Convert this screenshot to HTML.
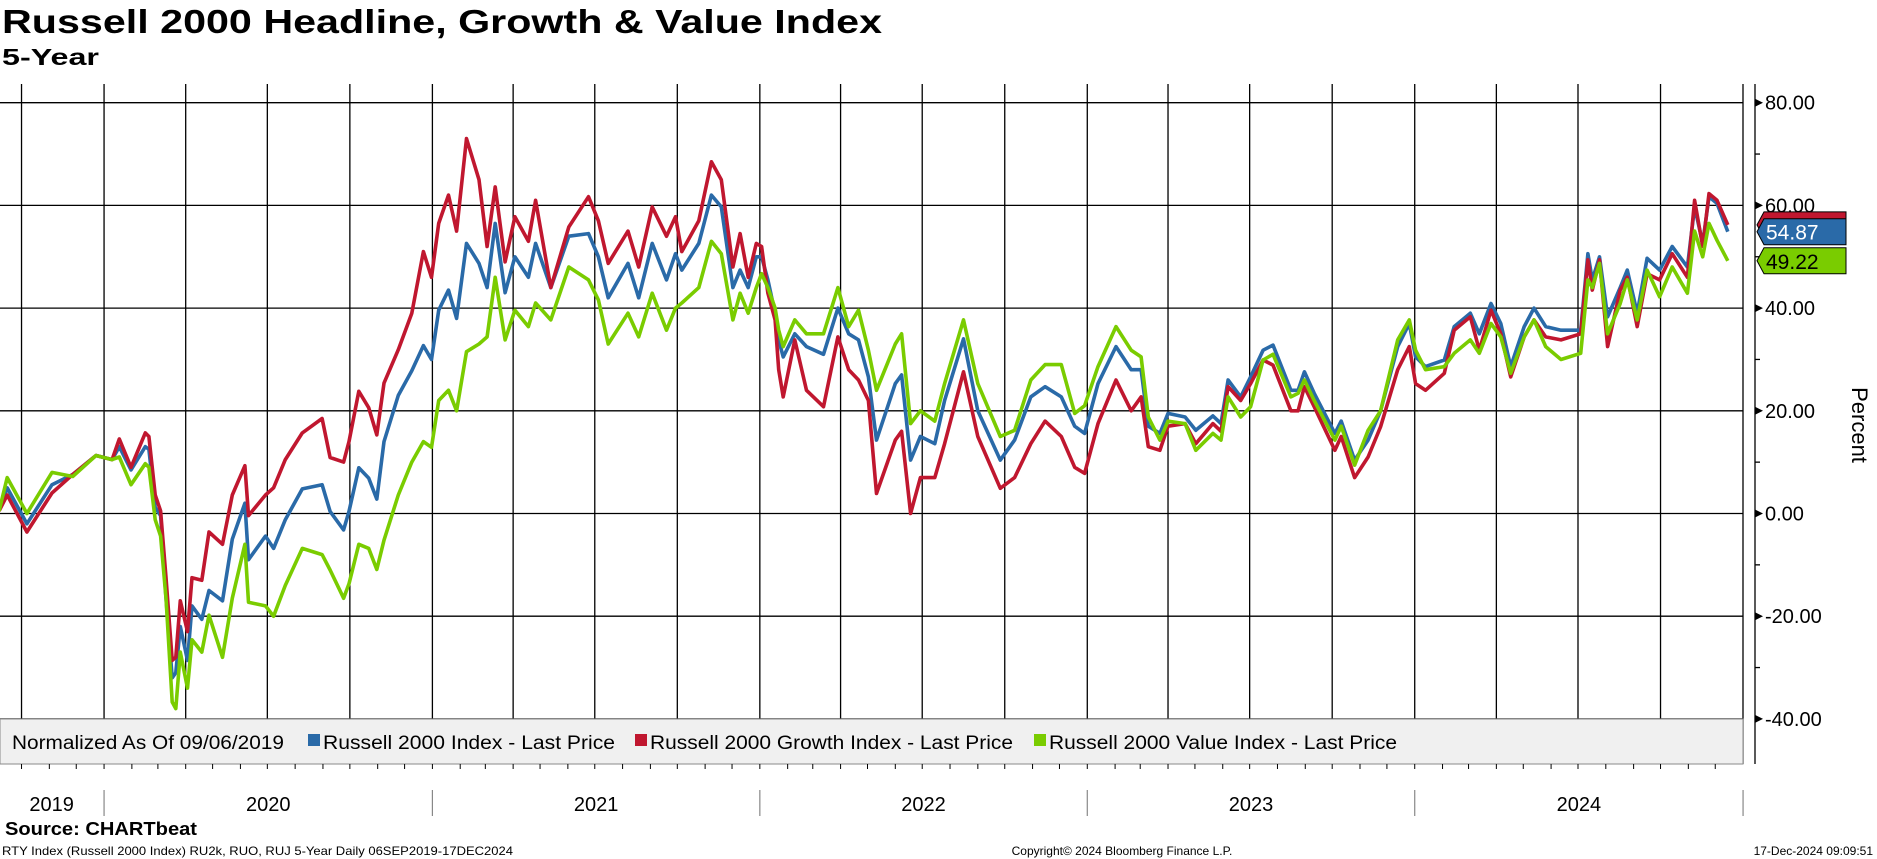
<!DOCTYPE html>
<html><head><meta charset="utf-8">
<style>
html,body{margin:0;padding:0;background:#fff;}
svg{display:block;font-family:"Liberation Sans","DejaVu Sans",sans-serif;}
</style></head>
<body>
<svg id="chart" width="1877" height="859" viewBox="0 0 1877 859" xmlns="http://www.w3.org/2000/svg">
<text x="2" y="33" font-size="33" font-weight="bold" textLength="880" lengthAdjust="spacingAndGlyphs">Russell 2000 Headline, Growth &amp; Value Index</text>
<text x="2" y="65" font-size="23" font-weight="bold" textLength="97" lengthAdjust="spacingAndGlyphs">5-Year</text>
<g id="grid"></g>
<g id="series"></g>
<g id="legend">
<rect x="0" y="719" width="1743" height="45" fill="#f0f0f0" stroke="#8a8a8a" stroke-width="1"/>
<text x="12" y="749" font-size="19" textLength="272" lengthAdjust="spacingAndGlyphs">Normalized As Of 09/06/2019</text>
<rect x="308" y="734" width="12" height="12" fill="#2a6aa8"/>
<text x="323" y="749" font-size="19" textLength="292" lengthAdjust="spacingAndGlyphs">Russell 2000 Index - Last Price</text>
<rect x="635" y="734" width="12" height="12" fill="#c0172f"/>
<text x="650" y="749" font-size="19" textLength="363" lengthAdjust="spacingAndGlyphs">Russell 2000 Growth Index - Last Price</text>
<rect x="1034" y="734" width="12" height="12" fill="#7acc00"/>
<text x="1049" y="749" font-size="19" textLength="348" lengthAdjust="spacingAndGlyphs">Russell 2000 Value Index - Last Price</text>
</g>
<g id="axis"></g>
<g id="xaxis"></g>
<text transform="translate(1852,425) rotate(90)" font-size="22" text-anchor="middle">Percent</text>
<text x="5" y="835" font-size="18" font-weight="bold" textLength="192" lengthAdjust="spacingAndGlyphs">Source: CHARTbeat</text>
<text x="2" y="855" font-size="12" textLength="511" lengthAdjust="spacingAndGlyphs">RTY Index (Russell 2000 Index) RU2k, RUO, RUJ 5-Year  Daily 06SEP2019-17DEC2024</text>
<text x="1122" y="855" font-size="12" text-anchor="middle">Copyright© 2024 Bloomberg Finance L.P.</text>
<text x="1873" y="855" font-size="12" text-anchor="end">17-Dec-2024 09:09:51</text>
</svg>
<script>
// days since 06 Sep 2019
const days = [0,9,31,59,82,108,126,134,147,163,167,174,180,186,193,197,202,210,215,226,234,249,260,274,278,297,306,319,338,360,369,384,390,401,412,421,429,445,460,473,482,490,501,510,521,535,544,553,564,575,590,598,615,635,657,668,679,701,713,728,744,754,761,780,794,805,818,826,835,844,850,857,865,869,874,887,900,919,935,947,958,969,978,999,1006,1016,1027,1043,1054,1075,1091,1116,1132,1150,1166,1184,1199,1210,1225,1245,1262,1273,1281,1294,1303,1322,1334,1353,1362,1370,1384,1395,1409,1420,1440,1448,1455,1466,1489,1496,1511,1526,1540,1559,1572,1579,1590,1611,1622,1640,1650,1663,1674,1685,1700,1711,1724,1741,1763,1771,1776,1784,1793,1807,1815,1826,1837,1851,1865,1882,1890,1899,1906,1915,1927];
const r2000 = [0.5,5,-2,5.6,7.6,11.3,10.5,13,8.5,13,12.5,1.2,-0.4,-16.5,-32,-31,-22,-28.6,-18,-20.6,-15,-17,-5,2,-9,-4.4,-6.8,-1.2,4.8,5.6,0.4,-3.2,0.4,8.9,6.9,2.8,14,23,27.8,32.7,30,39.6,43.5,38,52.6,48.7,44,56.5,43,50,46,52.6,44,54,54.5,50,42,48.7,42,52.6,45.5,50.6,47.4,52.6,62,59.7,44,47.4,44,50,50,45.5,39,33.8,30.5,35,32.5,31,40,35,33.8,26.6,14.3,25.3,27,10.4,15,13.6,22,34,20,10.4,14.3,22.7,24.7,22.7,17,15.6,25.3,32.5,28,28,17,15.6,19.5,18.8,16.2,19,17.5,26,22.7,26.6,31.8,32.8,24,24,27.6,23.4,15.6,18,10.4,14.3,20,32.5,37,30.5,28.6,29.9,36.4,39,35,40.9,37,28.6,36.4,40,36.4,35.7,35.7,50.6,45.5,50,38.3,44,47.4,39,49.7,47.4,52,48,59.7,52.6,61.7,60.4,54.87];
const growth = [0.5,3.6,-3.6,4,7.6,11.3,10.5,14.5,9,15.7,15,3.6,0.5,-12.5,-28.6,-28,-17,-23,-12.5,-13,-3.6,-6,3.6,9.3,-0.4,3.6,5,10.5,15.7,18.5,10.9,10,14,23.8,20.6,15.3,25.4,31.9,39,51,46,56.5,62,55,73,65,52,63.6,49,57.8,53,61,44,55.8,61.7,57,48.7,55,48,59.7,54,57.8,51,57,68.5,65,48,54.5,46,52.6,52,42.9,37.7,28,22.7,33.8,24,20.8,34.4,28,26,22,3.9,14.3,16,0,7,7,13.6,27.6,15,4.9,7,13.6,18,15,9,7.8,17.5,26,20,22.7,13,12.3,17,17.5,13.6,17.5,16,24.7,22,25.3,29.9,28.9,20,20,24.7,20.8,12.3,15,7,11,16.9,28,32.5,25.3,24,27.3,35.7,38.3,31.8,39.6,35,26.6,34.4,37.7,34.4,33.8,35,49.4,43.5,49.4,32.5,43.5,46,36.4,46.7,45.5,50.6,46,61,52,62.3,61,56.2];
const value = [0.5,7,0,8,7.2,11.3,10.5,11,5.6,9.7,9,-1.2,-4.4,-16.5,-36.7,-38,-27,-34,-24.6,-27,-19.8,-28,-16.5,-6,-17.3,-18,-20,-14,-6.8,-8,-11,-16.5,-13.7,-6,-6.8,-10.9,-5.2,3.6,10,14,12.9,22,24,20,31.5,33,34.4,46,33.8,39.6,36.4,41,37.7,48,45.5,41.6,33,39,34.4,42.9,35.7,40,41,44,53,50.6,37.7,42.9,39,44,46.7,44,40,35.7,32.5,37.7,35,35,44,36.4,39.6,31.8,24,33,35,17.5,20,18,25.3,37.7,25.3,15,16.2,26,29,29,19.5,21,28.6,36.4,31.8,30.5,18.8,14.3,18,17.5,12.3,15.6,14.3,22.7,18.8,20.8,29.9,31,22.7,23.4,26,22,14.3,17,9.4,16.2,20,33.8,37.7,31.8,28,28.6,31.2,33.8,31.2,37,34.4,27.3,34.4,37.7,32.5,30,31.2,45.5,44,48.7,35,40.9,45.5,37.7,47.4,42.2,48,42.9,55,50,56.5,53.2,49.22];
const yTicks = [80,60,40,20,0,-20,-40];
const yTickLabels = ["80.00","60.00","40.00","20.00","0.00","-20.00","-40.00"];
const quarterDates = ["2019-10-01","2020-01-01","2020-04-01","2020-07-01","2020-10-01","2021-01-01","2021-04-01","2021-07-01","2021-10-01","2022-01-01","2022-04-01","2022-07-01","2022-10-01","2023-01-01","2023-04-01","2023-07-01","2023-10-01","2024-01-01","2024-04-01","2024-07-01","2024-10-01"];
const years = ["2019","2020","2021","2022","2023","2024"];
const yearStarts = ["2019-09-06","2020-01-01","2021-01-01","2022-01-01","2023-01-01","2024-01-01","2025-01-01"];
const lastValues = [["growth",56.2],["r2000",54.87],["value",49.22]];

const NS="http://www.w3.org/2000/svg";
const PL=0, PR=1743, PT=84, PB=764;
const START=Date.UTC(2019,8,6);
function dayOf(s){const p=s.split("-");return (Date.UTC(+p[0],+p[1]-1,+p[2])-START)/864e5;}
function xScale(d){return -0.9+d*0.8971;}
function yScale(v){return 513.5-v*5.135;}
function mk(tag,attrs,parent){const e=document.createElementNS(NS,tag);for(const k in attrs)e.setAttribute(k,attrs[k]);parent.appendChild(e);return e;}

const grid=document.getElementById("grid");
yTicks.forEach(v=>{
  const l=mk("line",{x1:PL,x2:PR,y1:yScale(v),y2:yScale(v),stroke:"#000","stroke-width":1.3},grid);
  
  
});
quarterDates.forEach(q=>{
  const x=xScale(dayOf(q));
  const l=mk("line",{x1:x,x2:x,y1:PT,y2:PB,stroke:"#000","stroke-width":1.3},grid);
  
  
});
const fr=mk("line",{x1:PR,x2:PR,y1:PT,y2:PB,stroke:"#000","stroke-width":1.3},grid);



const ser=document.getElementById("series");
const defs=[["r2000",r2000,"#2a6aa8"],["growth",growth,"#c0172f"],["value",value,"#7acc00"]];
defs.forEach(([n,arr,c])=>{
  const d=arr.map((v,i)=>(i?"L":"M")+xScale(days[i]).toFixed(1)+","+yScale(v).toFixed(1)).join("");
  const p=mk("path",{d:d,fill:"none",stroke:c,"stroke-width":3.6,"stroke-linejoin":"round"},ser);
  
  
});

const ax=document.getElementById("axis");
const al=mk("line",{x1:1755,x2:1755,y1:PT,y2:PB,stroke:"#000","stroke-width":1.3},ax);


for(let v=-50;v<=80;v+=10){
  const y=yScale(v); if(y<PT||y>PB) continue;
  const t=mk("line",{x1:1755,x2:1760,y1:y,y2:y,stroke:"#000","stroke-width":1.3},ax);
  
  
}
yTicks.forEach((v,i)=>{
  const y=yScale(v);
  const a=mk("path",{d:`M1755,${y-4}L1763,${y}L1755,${y+4}Z`,fill:"#000"},ax);
  
  
  const t=mk("text",{x:1765,y:y+7,"font-size":20},ax);
  t.textContent=yTickLabels[i];
  
  
});
const colors={growth:["#c0172f","#fff"],r2000:["#2a6aa8","#fff"],value:["#7acc00","#000"]};
lastValues.forEach(([n,v])=>{
  const y=yScale(v), h=26, x0=1757, x1=1846;
  const g=mk("g",{},ax);
  
  
  mk("path",{d:`M${x0},${y}L${x0+7},${y-h/2}L${x1},${y-h/2}L${x1},${y+h/2}L${x0+7},${y+h/2}Z`,fill:colors[n][0],stroke:"#000","stroke-width":1},g);
  const t=mk("text",{x:1766,y:y+8,"font-size":21,fill:colors[n][1]},g);
  t.textContent=v.toFixed(2);
});

const xa=document.getElementById("xaxis");
for(let yy=2019;yy<=2024;yy++)for(let m=0;m<12;m++){
  const d=(Date.UTC(yy,m,1)-START)/864e5; if(d<0||d>1944) continue;
  const x=xScale(d);
  const t=mk("line",{x1:x,x2:x,y1:PB,y2:PB+5,stroke:"#000","stroke-width":1},xa);
  
  
}
yearStarts.forEach((s,i)=>{
  if(i===0) return;
  const x=xScale(dayOf(s));
  const l=mk("line",{x1:x,x2:x,y1:790,y2:816,stroke:"#888","stroke-width":1.2},xa);
  
  
});
years.forEach((yr,i)=>{
  const x=(xScale(Math.max(0,dayOf(yearStarts[i])))+xScale(dayOf(yearStarts[i+1])))/2;
  const t=mk("text",{x:x,y:811,"font-size":20,"text-anchor":"middle"},xa);
  t.textContent=yr;
  
  
});
</script>
</body></html>
